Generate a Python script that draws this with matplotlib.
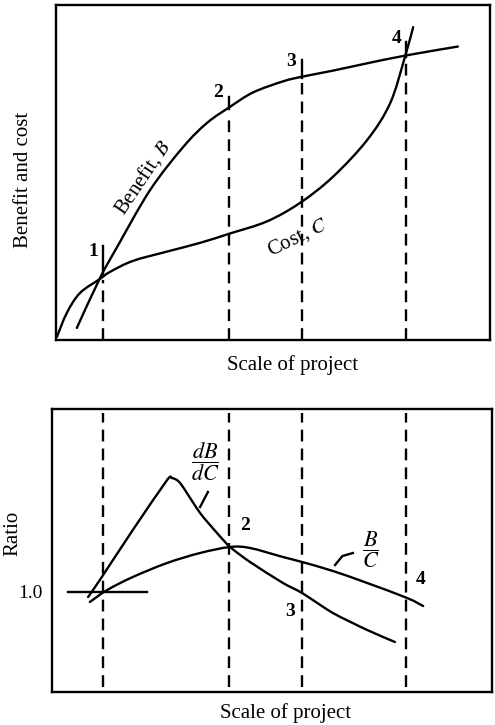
import numpy as np
import matplotlib
matplotlib.use("Agg")
import matplotlib.pyplot as plt
from matplotlib.path import Path
from matplotlib.patches import PathPatch

plt.rcParams["font.family"] = ["Liberation Serif", "DejaVu Serif"]
plt.rcParams["mathtext.fontset"] = "stix"

# --- upper panel: benefit and cost against scale of project ---
benefit_x = [4.8, 10.1, 14.1, 21.7, 29.3, 34.8, 40.1, 45.4, 52.3, 56.7, 63.8, 71.7, 80.9, 92.6]
benefit_y = [3.6, 18.4, 27.8, 44.8, 57.6, 64.8, 69.6, 73.9, 77.2, 78.6, 80.4, 82.6, 85.0, 87.6]

cost_x = [0.2, 2.5, 5.5, 10.1, 12.4, 17.7, 25.6, 33.2, 40.1, 48.6, 56.2, 63.8, 71.7, 77.0, 80.4, 82.3]
cost_y = [0.9, 8.1, 14.0, 18.2, 20.3, 23.6, 26.4, 29.0, 31.8, 35.4, 40.9, 48.7, 59.7, 70.7, 84.5, 93.4]

# project scales marked 1..4 (shared by both panels)
points = ["1", "2", "3", "4"]
point_x = [10.8, 39.9, 56.7, 80.6]
tick_len = [8.0, 3.0, 5.0, 4.0]
point_label_dx = [-2.3, -2.6, -2.6, -2.0]
point_label_dy = [6.5, 4.5, 4.5, 5.0]

# --- lower panel: ratios ---
dbdc_x = [7.4, 10.1, 17.7, 25.6, 26.7, 28.6, 33.2, 37.1, 40.1, 44.7, 52.3, 56.7, 63.8, 71.7, 78.1]
dbdc_y = [0.95, 1.12, 1.62, 2.12, 2.14, 2.09, 1.79, 1.59, 1.45, 1.30, 1.09, 0.99, 0.79, 0.62, 0.50]

bc_x = [7.8, 11.8, 17.7, 25.6, 33.2, 40.1, 44.7, 52.3, 56.7, 63.8, 71.7, 80.9, 84.6]
bc_y = [0.90, 1.02, 1.15, 1.29, 1.39, 1.45, 1.44, 1.35, 1.30, 1.21, 1.09, 0.94, 0.86]

unity_x = [2.8, 21.0]
unity_y = [1.0, 1.0]

W, H = 495, 725
fig = plt.figure(figsize=(W / 100, H / 100), dpi=100)
fig.patch.set_facecolor("white")


def px_axes(l, t, r, b):
    return fig.add_axes([l / W, 1 - b / H, (r - l) / W, (b - t) / H])


def smooth_curve(ax, xs, ys, tension=0.5, **kw):
    # Catmull-Rom style cubic Bezier path through the given points
    p = np.column_stack([xs, ys]).astype(float)
    verts = [p[0]]
    codes = [Path.MOVETO]
    n = len(p)
    for i in range(n - 1):
        p0 = p[i - 1] if i > 0 else p[i]
        p1, p2 = p[i], p[i + 1]
        p3 = p[i + 2] if i + 2 < n else p[i + 1]
        c1 = p1 + (p2 - p0) * tension / 3
        c2 = p2 - (p3 - p1) * tension / 3
        verts += [c1, c2, p2]
        codes += [Path.CURVE4] * 3
    patch = PathPatch(Path(verts, codes), fill=False, edgecolor="black",
                      capstyle="round", joinstyle="round", **kw)
    ax.add_patch(patch)


lw = 1.7
fs = 15
fs_num = 14

ax1 = px_axes(56, 5, 490, 340)
smooth_curve(ax1, benefit_x, benefit_y, lw=lw)
smooth_curve(ax1, cost_x, cost_y, lw=lw)

b_at = np.interp(point_x, benefit_x, benefit_y)
for name, x, by, tl, dx, dy in zip(points, point_x, b_at, tick_len, point_label_dx, point_label_dy):
    ax1.plot([x, x], [0, by - 2.0], color="black", lw=lw, dashes=(5, 3))
    ax1.plot([x, x], [by - 0.5, by + tl], color="black", lw=lw)
    ax1.text(x + dx, by + dy, name, ha="center", va="center", fontsize=fs_num, fontweight="bold")

ax1.text(20.0, 48.7, "Benefit, $B$", rotation=56, ha="center", va="center", fontsize=fs)
ax1.text(55.8, 30.6, "Cost, $C$", rotation=26, ha="center", va="center", fontsize=fs)

ax1.set_xlim(0, 100)
ax1.set_ylim(0, 100)
ax1.set_xticks([])
ax1.set_yticks([])
ax1.text(0.544, -0.075, "Scale of project", transform=ax1.transAxes,
         ha="center", va="center", fontsize=fs)
ax1.text(-0.075, 0.478, "Benefit and cost", transform=ax1.transAxes, rotation=90,
         ha="center", va="center", fontsize=fs)
for s in ax1.spines.values():
    s.set_linewidth(lw)

# lower panel uses the same horizontal scale as the upper one
ax2 = px_axes(52, 409, 492, 692)
ax2.set_xlim((52 - 56) / 4.34, (492 - 56) / 4.34)
ax2.set_ylim(0, 2.83)

for x in point_x:
    ax2.plot([x, x], [0.05, 2.79], color="black", lw=lw, dashes=(5, 3))

ax2.plot(unity_x, unity_y, color="black", lw=lw)
smooth_curve(ax2, dbdc_x, dbdc_y, tension=0.35, lw=lw)
smooth_curve(ax2, bc_x, bc_y, lw=lw)

ax2.text(34.3, 2.30, r"$\dfrac{dB}{dC}$", ha="center", va="center", fontsize=fs + 1)
ax2.plot([35.0, 33.2], [2.0, 1.85], color="black", lw=lw)
ax2.text(72.6, 1.42, r"$\dfrac{B}{C}$", ha="center", va="center", fontsize=fs + 1)
ax2.plot([68.4, 66.0, 64.3], [1.39, 1.36, 1.27], color="black", lw=lw)

ax2.text(43.5, 1.67, "2", ha="center", va="center", fontsize=fs_num, fontweight="bold")
ax2.text(53.9, 0.80, "3", ha="center", va="center", fontsize=fs_num, fontweight="bold")
ax2.text(84.1, 1.12, "4", ha="center", va="center", fontsize=fs_num, fontweight="bold")

ax2.set_xticks([])
ax2.set_yticks([1.0])
ax2.set_yticklabels(["1.0"], fontsize=fs_num)
ax2.tick_params(axis="y", length=0, pad=7)
ax2.text(0.53, -0.074, "Scale of project", transform=ax2.transAxes,
         ha="center", va="center", fontsize=fs)
ax2.text(-0.09, 0.562, "Ratio", transform=ax2.transAxes, rotation=90,
         ha="center", va="center", fontsize=fs)
for s in ax2.spines.values():
    s.set_linewidth(lw)

fig.savefig("out.png", dpi=100, facecolor="white")
